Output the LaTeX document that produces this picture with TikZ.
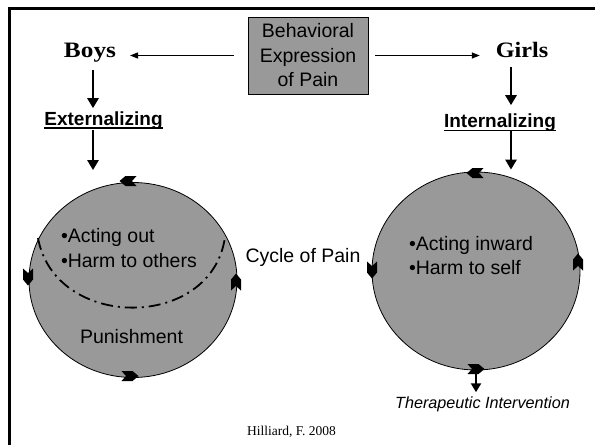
\documentclass[tikz,border=0pt]{standalone}
\usepackage{fontspec}
\setmainfont{Liberation Serif}
\setsansfont{Liberation Sans}
\usetikzlibrary{arrows.meta,shapes.geometric}
\definecolor{boxgray}{RGB}{153,153,153}
\begin{document}
\begin{tikzpicture}[x=1pt,y=-1pt,
  txt/.style={inner sep=0pt,outer sep=0pt},
  arial/.style={txt,font=\fontsize{19.5}{24}\selectfont\sffamily},
  head/.style={txt,font=\fontsize{19}{23}\selectfont\sffamily\bfseries},
  serifhead/.style={txt,font=\fontsize{22}{26}\selectfont\rmfamily\bfseries},
  harr/.style={line width=1.3pt,-{Triangle[length=8pt,width=6pt]}},
  varr/.style={line width=2.6pt,-{Triangle[length=10pt,width=11pt]}},
  cyc/.style={ellipse,draw=black,line width=0.8pt,fill=boxgray,inner sep=0pt},
  cycarrow/.pic={\fill[black] (8.5,0) -- (2.5,5) -- (-8.5,5) -- (-4,0) -- (-8.5,-5) -- (2.5,-5) -- cycle;}
]
\useasboundingbox (0,0) rectangle (595,445);
% frame
\draw[line width=2.7pt] (9.7,445) -- (9.7,8.7) -- (595,8.7);

% top box
\node[draw=black,line width=0.8pt,fill=boxgray,minimum width=120pt,minimum height=77pt,
      inner sep=0pt,align=center,font=\fontsize{19.5}{24.5}\selectfont\sffamily]
      (bep) at (308,55.5) {Behavioral\\Expression\\of Pain};

\node[serifhead,anchor=base] (boys) at (90,57) {\scalebox{1.15}[1]{Boys}};
\node[serifhead,anchor=base] (girls) at (522,57) {\scalebox{1.1}[1]{Girls}};

\node[head,anchor=base] (ext) at (103.5,125) {Externalizing};
\node[head,anchor=base] (int) at (500,127) {Internalizing};
\draw[line width=1.4pt] ([yshift=-3pt]ext.base west) -- ([yshift=-3pt]ext.base east);
\draw[line width=1.4pt] ([yshift=-3.5pt]int.base west) -- ([yshift=-3.5pt]int.base east);

% circles
\node[cyc,minimum width=208pt,minimum height=195pt] (lc) at (133,280) {};
\node[cyc,minimum width=208pt,minimum height=198pt] (rc) at (476,271) {};

% top arrows
\draw[harr,shorten <=14pt,shorten >=14pt] (bep.west) -- (boys.east |- bep.west);
\draw[harr,shorten <=7pt,shorten >=16pt] (bep.east) -- (girls.west |- bep.east);

% vertical arrows
\draw[varr,shorten <=8pt,shorten >=3pt] ([xshift=3pt]boys.south) -- ([xshift=3pt]boys.south |- ext.north);
\draw[varr,shorten <=1pt,shorten >=12pt] ([xshift=3pt]boys.south |- ext.south) -- ([xshift=3pt]boys.south |- lc.north);
\draw[varr,shorten <=10pt,shorten >=8pt] ([xshift=-11pt]girls.south) -- ([xshift=-11pt]girls.south |- int.north);
\draw[varr,shorten <=0pt,shorten >=2pt] ([xshift=-11pt]girls.south |- int.south) -- ([xshift=-11pt]girls.south |- rc.north);

% circle texts
\node[arial,anchor=base west] (lt1) at (61,242) {•Acting out};
\node[arial,anchor=base west] (lt2) at (61,267) {•Harm to others};
\node[arial,anchor=base] (pun) at (131.5,343) {Punishment};
\node[arial,anchor=base west] (rt1) at (409,250) {•Acting inward};
\node[arial,anchor=base west] (rt2) at (409,274) {•Harm to self};
\node[arial,anchor=base] (cop) at (303,262) {Cycle of Pain};

% dash-dot split
\draw[line width=1.8pt,dash pattern=on 12pt off 5pt on 2pt off 5pt]
  (38,238) .. controls (55,331) and (212,331) .. (225,237);

% circle arrowheads (counterclockwise)
\path (128,181) pic[rotate=180] {cycarrow};
\path (28,277) pic[rotate=270] {cycarrow};
\path (130,376) pic {cycarrow};
\path (236,282) pic[rotate=90] {cycarrow};
\path (475,173) pic[rotate=180] {cycarrow};
\path (372,270) pic[rotate=270] {cycarrow};
\path (476,369) pic {cycarrow};
\path (578,262) pic[rotate=90] {cycarrow};

% therapeutic intervention
\node[txt,anchor=base,font=\fontsize{16.2}{19}\selectfont\sffamily\itshape] (ther) at (482.5,408) {Therapeutic Intervention};
\draw[line width=2.4pt,-{Triangle[length=9pt,width=10pt]},shorten <=4pt,shorten >=4pt] (rc.south) -- (rc.south |- ther.north);

% credit
\node[txt,anchor=base,font=\fontsize{13.5}{16}\selectfont\rmfamily] (cred) at (291.5,435) {Hilliard, F. 2008};
\end{tikzpicture}
\end{document}
